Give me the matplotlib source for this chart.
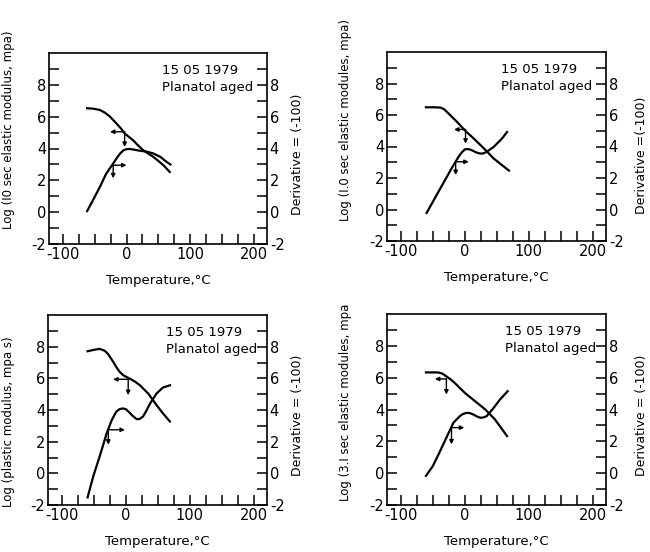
import numpy as np
import matplotlib.pyplot as plt

plt.rcParams['font.family'] = 'DejaVu Sans'
plt.rcParams['axes.unicode_minus'] = False

# panel 1: 10 sec elastic modulus
t_mod1 = [-62, -52, -42, -34, -26, -16, -8, -3, 4, 10, 18, 26, 34, 42, 50, 58, 68]
mod1 = [6.53, 6.5, 6.42, 6.25, 6.0, 5.58, 5.22, 4.95, 4.72, 4.53, 4.2, 3.9, 3.68, 3.48, 3.22, 2.95, 2.53]
t_der1 = [-62, -53, -42, -32, -21, -15, -10, -5, 0, 5, 10, 21, 32, 42, 53, 63, 69]
der1 = [0.07, 0.74, 1.58, 2.42, 3.06, 3.42, 3.69, 3.88, 3.96, 3.97, 3.94, 3.86, 3.8, 3.69, 3.48, 3.16, 3.0]

# panel 2: 1.0 sec elastic modules
t_mod2 = [-61, -48, -38, -32, -25, -12, 0, 14, 30, 45, 58, 69]
mod2 = [6.49, 6.49, 6.47, 6.35, 6.07, 5.55, 5.02, 4.5, 3.87, 3.24, 2.82, 2.47]
t_der2 = [-60, -47, -34, -21, -10, -5, 0, 5, 11, 18, 24, 29, 34, 45, 58, 66]
der2 = [-0.22, 0.72, 1.66, 2.6, 3.34, 3.62, 3.82, 3.84, 3.76, 3.62, 3.55, 3.56, 3.66, 3.97, 4.5, 4.92]

# panel 3: plastic modulus
t_mod3 = [-60, -50, -41, -33, -28, -20, -15, -10, -4, 6, 14, 22, 35, 48, 58, 69]
mod3 = [7.71, 7.8, 7.86, 7.74, 7.54, 7.05, 6.71, 6.42, 6.19, 5.98, 5.8, 5.56, 5.04, 4.31, 3.79, 3.27]
t_der3 = [-60, -51, -41, -30, -22, -15, -10, -5, 0, 4, 10, 17, 22, 27, 32, 38, 48, 58, 69]
der3 = [-1.52, -0.17, 1.08, 2.54, 3.38, 3.9, 4.05, 4.1, 4.05, 3.9, 3.65, 3.42, 3.44, 3.6, 3.95, 4.42, 5.04, 5.42, 5.56]

# panel 4: 3.1 sec elastic modules
t_mod4 = [-61, -42, -35, -29, -22, -16, 0, 16, 32, 47, 66]
mod4 = [6.33, 6.33, 6.25, 6.08, 5.88, 5.67, 5.04, 4.52, 4.0, 3.38, 2.33]
t_der4 = [-61, -50, -40, -29, -18, -8, -3, 3, 8, 13, 19, 24, 29, 34, 45, 55, 67]
der4 = [-0.17, 0.46, 1.29, 2.23, 3.17, 3.58, 3.72, 3.79, 3.77, 3.69, 3.56, 3.48, 3.5, 3.58, 4.1, 4.63, 5.15]

# marker points (x, y, horizontal end x, vertical end y) for the two curves
marks1 = [(-3, 5.05, -26, 4.1), (-21, 2.95, 0, 2.13)]
marks2 = [(1, 5.08, -17, 4.18), (-14.5, 3.03, 6, 2.19)]
marks3 = [(3.6, 5.94, -20, 4.94), (-27.6, 2.75, -1.6, 1.81)]
marks4 = [(-29, 5.92, -47, 4.94), (-21, 2.86, -1, 1.81)]

left_labels = ['Log (I0 sec elastic modulus, mpa)',
               'Log (I.0 sec elastic modules, mpa)',
               'Log (plastic modulus, mpa s)',
               'Log (3.I sec elastic modules, mpa']
right_labels = ['Derivative = (-100)', 'Derivative =(-100)',
                'Derivative = (-100)', 'Derivative = (-100)']

W, H = 650, 552
rects = [(49, 53, 218, 191), (387, 52, 219, 189),
         (48, 315, 219, 190), (387, 314, 219, 191)]
ylab_pos = [(-0.156, 0.6, 1.14, 0.47), (-0.16, 0.64, 1.164, 0.455),
            (-0.15, 0.44, 1.14, 0.47), (-0.16, 0.54, 1.164, 0.47)]
text_x = [0.52, 0.52, 0.54, 0.54]

panels = [(t_mod1, mod1, t_der1, der1, marks1),
          (t_mod2, mod2, t_der2, der2, marks2),
          (t_mod3, mod3, t_der3, der3, marks3),
          (t_mod4, mod4, t_der4, der4, marks4)]

fig = plt.figure(figsize=(6.5, 5.52), dpi=100)

for i, (tm, m, td, d, marks) in enumerate(panels):
    x0, y0, w, h = rects[i]
    ax = fig.add_axes([x0 / W, (H - y0 - h) / H, w / W, h / H])
    ax.plot(tm, m, color='k', lw=1.6)
    ax.plot(td, d, color='k', lw=1.6)
    for (px, py, hx, vy) in marks:
        ax.annotate('', xy=(hx, py), xytext=(px, py),
                    arrowprops=dict(arrowstyle='-|>', lw=1.0, color='k',
                                    mutation_scale=6, shrinkA=0, shrinkB=0))
        ax.annotate('', xy=(px, vy), xytext=(px, py),
                    arrowprops=dict(arrowstyle='-|>', lw=1.0, color='k',
                                    mutation_scale=6, shrinkA=0, shrinkB=0))
    ax.set_xlim(-122, 221)
    ax.set_ylim(-2, 10)
    ax.set_xticks([-100, 0, 100, 200])
    ax.set_xticks(np.arange(-100, 201, 25), minor=True)
    ax.set_yticks([-2, 0, 2, 4, 6, 8])
    ax.set_yticks(np.arange(-2, 10, 1), minor=True)
    ax.tick_params(which='both', direction='in', length=7, width=1.1,
                   labelsize=10.5, right=True, labelright=True, top=False, pad=2)
    for s in ax.spines.values():
        s.set_linewidth(1.2)
    ax.set_xlabel('Temperature,°C', fontsize=9.5, labelpad=9)
    ax.set_ylabel(left_labels[i], fontsize=8.5)
    lx, ly, rx, ry = ylab_pos[i]
    ax.yaxis.set_label_coords(lx, ly)
    ax.text(rx, ry, right_labels[i], transform=ax.transAxes, rotation=90,
            ha='center', va='center', fontsize=9)
    ax.text(text_x[i], 0.91, '15 05 1979', transform=ax.transAxes,
            ha='left', va='center', fontsize=9.5)
    ax.text(text_x[i], 0.82, 'Planatol aged', transform=ax.transAxes,
            ha='left', va='center', fontsize=9.5)

fig.savefig('out.png', dpi=100)
